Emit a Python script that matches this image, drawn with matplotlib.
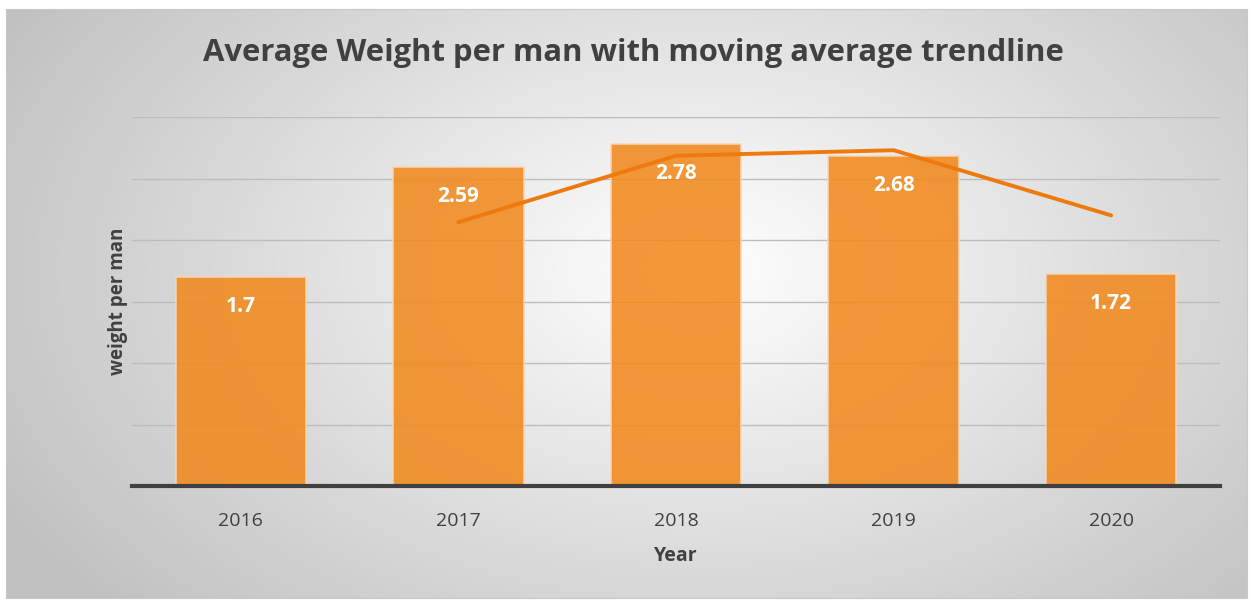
import numpy as np
import matplotlib.pyplot as plt

years = ['2016', '2017', '2018', '2019', '2020']
weight = [1.7, 2.59, 2.78, 2.68, 1.72]
# 2-period moving average points (start at 2017)
ma_years = ['2017', '2018', '2019', '2020']
ma_vals = [2.145, 2.685, 2.73, 2.2]

plt.rcParams['font.family'] = ['Open Sans', 'DejaVu Sans']

fig = plt.figure(figsize=(12.53, 6.02), dpi=100)

# gradient background of chart area
bg = fig.add_axes([6/1253, 4/602, 1241/1253, 589/602])
yy, xx = np.mgrid[0:589, 0:1241]
d = np.sqrt(((xx - 690) / 780.0) ** 2 + ((yy - 260) / 500.0) ** 2)
shade = 1.0 - 0.24 * np.clip(d, 0, 1.0)
bg.imshow(np.dstack([shade] * 3), aspect='auto', extent=[0, 1, 0, 1])
bg.set_xticks([])
bg.set_yticks([])
for s in bg.spines.values():
    s.set_color('#c8c8c8')

ax = fig.add_axes([132/1253, 116/602, 1088/1253, 369/602])
ax.patch.set_alpha(0)
x = np.arange(len(years))
ax.set_ylim(0, 3.0)
ax.set_xlim(-0.5, 4.5)
ax.set_yticks(np.arange(0, 3.01, 0.5))
ax.yaxis.grid(True, color='#bdbdbd', linewidth=1)
ax.set_axisbelow(True)
ax.tick_params(axis='y', left=False, labelleft=False)
ax.tick_params(axis='x', length=0, pad=19, labelsize=14, labelcolor='#404040')

bars = ax.bar(x, weight, width=0.6, color='#F28A1E', alpha=0.88,
              edgecolor='#f7d8b8', linewidth=1.2, zorder=2)
ax.set_xticks(x)
ax.set_xticklabels(years)

for xi, v in zip(x, weight):
    ax.annotate(f'{v:g}', (xi, v), xytext=(0, -21), textcoords='offset points',
                ha='center', va='center', color='white', fontsize=15,
                fontweight='bold', zorder=4)

ma_x = [years.index(y) for y in ma_years]
ax.plot(ma_x, ma_vals, color='#EE7A0E', linewidth=2.8, zorder=3,
        solid_capstyle='round')

for s in ['top', 'right', 'left']:
    ax.spines[s].set_visible(False)
ax.spines['bottom'].set_color('#404040')
ax.spines['bottom'].set_linewidth(3)
ax.spines['bottom'].set_zorder(5)

ax.set_xlabel('Year', fontsize=14, fontweight='bold', color='#404040', labelpad=11)
ax.set_ylabel('weight per man', fontsize=13.5, fontweight='bold', color='#404040', labelpad=3)

fig.text(633/1253, 1 - 53/602, 'Average Weight per man with moving average trendline',
         ha='center', va='center', fontsize=22.3, fontweight='bold', color='#404040')

fig.savefig('out.png', dpi=100)
